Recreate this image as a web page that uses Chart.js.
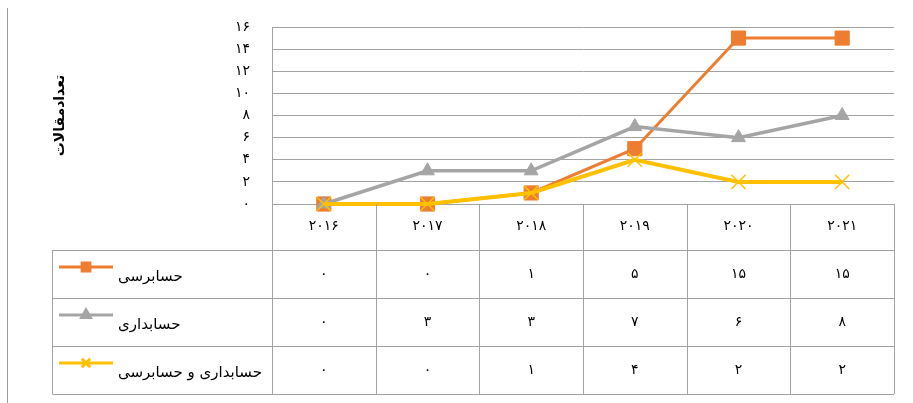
<!DOCTYPE html>
<html lang="fa">
<head>
<meta charset="utf-8">
<title>تعدادمقالات</title>
<script src="https://cdn.jsdelivr.net/npm/chart.js@4.4.0/dist/chart.umd.min.js"></script>
<style>
  html, body { margin: 0; padding: 0; background: #fff; }
  #wrap { width: 913px; height: 403px; position: relative; }
</style>
</head>
<body>
<div id="wrap"><canvas id="articlesChart"></canvas></div>
<script>
// articles per year, by field
const years = ['2016', '2017', '2018', '2019', '2020', '2021'];
const auditing = [0, 0, 1, 5, 15, 15];
const accounting = [0, 3, 3, 7, 6, 8];
const accountingAndAuditing = [0, 0, 1, 4, 2, 2];
const seriesNames = ['حسابرسی', 'حسابداری', 'حسابداری و حسابرسی'];
const yMax = 16;
const yStep = 2;
const axisTitle = 'تعدادمقالات';

const FONT = "'DejaVu Sans', sans-serif";
const GRID = '#a3a3a3';

// western digits -> persian digits
function toFa(v) {
    return String(v).replace(/\d/g, d => '۰۱۲۳۴۵۶۷۸۹'[d]);
}

// data table under the plot (legend key + values per year)
const dataTable = {
    id: 'dataTable',
    beforeDraw(chart) {
        const ctx = chart.ctx;
        ctx.save();
        ctx.strokeStyle = '#999';
        ctx.lineWidth = 1;
        ctx.beginPath();
        ctx.moveTo(7.5, 8);
        ctx.lineTo(7.5, chart.height);
        ctx.stroke();
        ctx.restore();
    },
    afterDraw(chart) {
        const ctx = chart.ctx;
        const x = chart.scales.x;
        const area = chart.chartArea;
        const sets = chart.data.datasets;
        const colW = (x.right - x.left) / years.length;
        const top = x.bottom;
        const rowH = 48;
        const keyLeft = 52.5;
        const bottom = top + rowH * sets.length;

        ctx.save();
        ctx.strokeStyle = GRID;
        ctx.lineWidth = 1;
        ctx.beginPath();
        for (let i = 0; i <= years.length; i++) {
            const px = Math.round(x.left + i * colW) + 0.5;
            ctx.moveTo(px, area.bottom);
            ctx.lineTo(px, bottom);
        }
        for (let r = 0; r <= sets.length; r++) {
            const py = Math.round(top + r * rowH) + 0.5;
            ctx.moveTo(keyLeft, py);
            ctx.lineTo(x.right, py);
        }
        ctx.moveTo(keyLeft, top);
        ctx.lineTo(keyLeft, bottom);
        ctx.stroke();

        sets.forEach((ds, r) => {
            const rowTop = top + r * rowH;

            // legend key: line with marker
            ctx.strokeStyle = ds.borderColor;
            ctx.lineWidth = 3;
            ctx.beginPath();
            ctx.moveTo(59, rowTop + 17);
            ctx.lineTo(113, rowTop + 17);
            ctx.stroke();
            ctx.fillStyle = ds.pointBackgroundColor;
            ctx.strokeStyle = ds.pointBorderColor;
            Chart.helpers.drawPoint(ctx, {
                pointStyle: ds.pointStyle,
                radius: ds.keyRadius,
                rotation: 0,
                borderWidth: 1
            }, 86, rowTop + 17);

            ctx.fillStyle = '#000';
            ctx.font = '15px ' + FONT;
            ctx.textAlign = 'left';
            ctx.textBaseline = 'middle';
            ctx.fillText(ds.label, 118, rowTop + 27);

            // values
            ctx.font = '14px ' + FONT;
            ctx.textAlign = 'center';
            ds.data.forEach((v, i) => {
                ctx.fillText(toFa(v), x.getPixelForValue(i), rowTop + rowH / 2);
            });
        });
        ctx.restore();
    }
};

const ctx = document.getElementById('articlesChart').getContext('2d');
new Chart(ctx, {
    type: 'line',
    data: {
        labels: years,
        datasets: [
            {
                label: seriesNames[0],
                data: auditing,
                borderColor: '#ED7D31',
                pointBackgroundColor: '#ED7D31',
                pointBorderColor: '#ED7D31',
                borderWidth: 3,
                pointStyle: 'rect',
                pointRadius: 10,
                pointBorderWidth: 1,
                keyRadius: 5.5,
                order: 3
            },
            {
                label: seriesNames[1],
                data: accounting,
                borderColor: '#A5A5A5',
                pointBackgroundColor: '#A5A5A5',
                pointBorderColor: '#A5A5A5',
                borderWidth: 3.5,
                pointStyle: 'triangle',
                pointRadius: 8,
                pointBorderWidth: 1,
                keyRadius: 5,
                order: 2
            },
            {
                label: seriesNames[2],
                data: accountingAndAuditing,
                borderColor: '#FFC000',
                pointBackgroundColor: '#FFC000',
                pointBorderColor: '#FFC000',
                borderWidth: 4,
                pointStyle: 'crossRot',
                pointRadius: 10,
                pointBorderWidth: 1.5,
                keyRadius: 6,
                order: 1
            }
        ]
    },
    options: {
        responsive: true,
        maintainAspectRatio: false,
        animation: false,
        layout: {padding: {left: 7, top: 27, right: 19, bottom: 153}},
        datasets: {line: {tension: 0, clip: false}},
        plugins: {
            legend: {display: false},
            tooltip: {enabled: false}
        },
        scales: {
            x: {
                offset: true,
                grid: {display: false, drawTicks: false},
                border: {display: false},
                ticks: {
                    color: '#000',
                    padding: 14,
                    font: {family: FONT, size: 14},
                    callback: function (v) { return toFa(this.getLabelForValue(v)); }
                },
                afterFit: scale => { scale.height = 46; }
            },
            y: {
                min: 0,
                max: yMax,
                // invisible tick marks keep the labels away from the axis
                grid: {color: GRID, drawTicks: true, tickLength: 14, tickColor: 'rgba(0,0,0,0)'},
                border: {color: GRID},
                ticks: {
                    stepSize: yStep,
                    color: '#000',
                    padding: 8,
                    font: {family: FONT, size: 14},
                    callback: v => toFa(v)
                },
                title: {
                    display: true,
                    text: axisTitle,
                    color: '#000',
                    font: {family: FONT, size: 14, weight: 'bold'},
                    padding: {top: 45, bottom: 0}
                },
                afterFit: scale => { scale.width = 265; }
            }
        }
    },
    plugins: [dataTable]
});
</script>
</body>
</html>
